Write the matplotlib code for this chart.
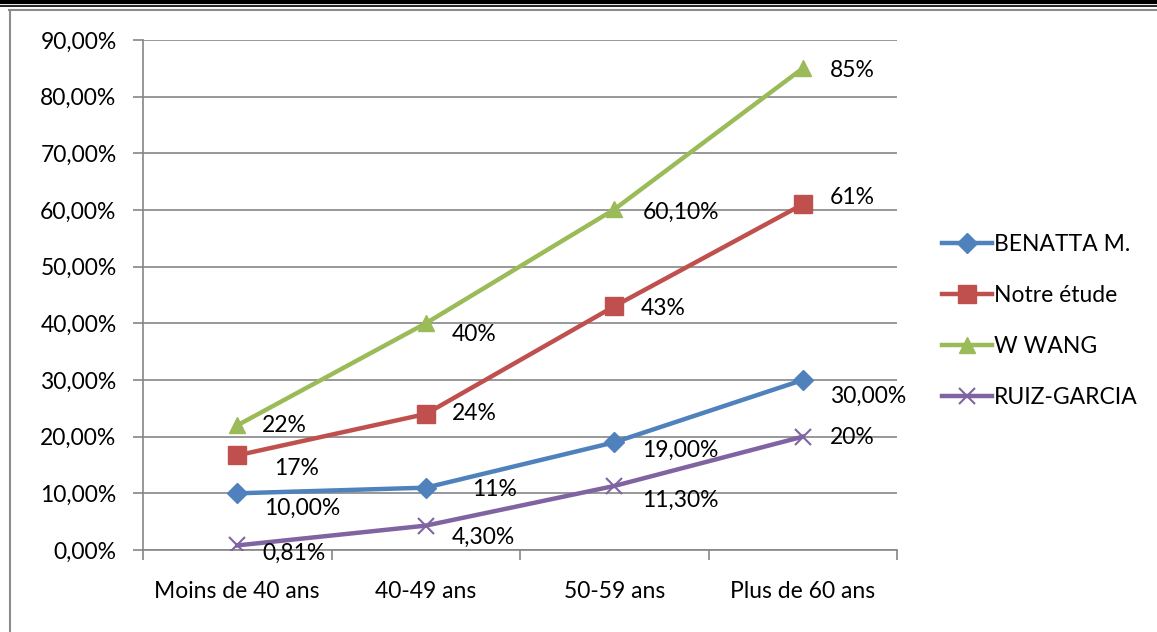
import matplotlib.pyplot as plt
from matplotlib.lines import Line2D
import numpy as np

plt.rcParams['font.family'] = ['Lato', 'DejaVu Sans']

categories = ["Moins de 40 ans", "40-49 ans", "50-59 ans", "Plus de 60 ans"]
series_names = ["BENATTA M.", "Notre étude", "W WANG", "RUIZ-GARCIA"]
benatta = [10.0, 11.0, 19.0, 30.0]
notre = [16.7, 24.0, 43.0, 61.0]
wang = [22.0, 40.0, 60.1, 85.0]
ruiz = [0.81, 4.3, 11.3, 20.0]
benatta_labels = ["10,00%", "11%", "19,00%", "30,00%"]
notre_labels = ["17%", "24%", "43%", "61%"]
wang_labels = ["22%", "40%", "60,10%", "85%"]
ruiz_labels = ["0,81%", "4,30%", "11,30%", "20%"]

# label offsets (pixels, right / down) as placed in the original
benatta_off = [(27, 15), (46, 2), (28, 8), (27, 16)]
notre_off = [(37, 13), (26, 0), (26, 2), (27, -7)]
wang_off = [(25, 0), (26, 11), (28, 3), (27, 2)]
ruiz_off = [(25, 8), (26, 12), (28, 14), (27, 1)]

colors = ['#4F81BD', '#C0504D', '#9BBB59', '#8064A2']
markers = ['D', 's', '^', 'x']
msizes = [10, 13, 12, 12]
FS = 16.5

fig = plt.figure(figsize=(11.57, 6.32), dpi=100)
ax = fig.add_axes([143 / 1157, 1 - 550 / 632, (897 - 143) / 1157, 510 / 632])

x = np.arange(len(categories))
data = [benatta, notre, wang, ruiz]
labels = [benatta_labels, notre_labels, wang_labels, ruiz_labels]
offsets = [benatta_off, notre_off, wang_off, ruiz_off]

for i in range(4):
    mew = 1.5 if markers[i] == 'x' else 1
    ax.plot(x, data[i], color=colors[i], lw=3.2, marker=markers[i], ms=msizes[i],
            mew=mew, label=series_names[i], zorder=3)
    for j in range(4):
        dx, dy = offsets[i][j]
        ax.annotate(labels[i][j], (x[j], data[i][j]), xytext=(dx * 0.72, -dy * 0.72),
                    textcoords='offset points', ha='left', va='center',
                    fontsize=FS, color='black', zorder=5)

ax.set_xlim(-0.5, 3.5)
ax.set_ylim(0, 90)
ax.set_yticks(np.arange(0, 91, 10))
ax.set_yticklabels([f"{v},00%" for v in range(0, 91, 10)], fontsize=FS)
ax.set_xticks(x)
ax.set_xticklabels(categories, fontsize=FS)
ax.set_xticks(np.arange(-0.5, 3.6, 1), minor=True)
ax.tick_params(axis='x', which='major', length=0, pad=22)
ax.tick_params(axis='x', which='minor', length=7, color='#868686', width=1.2, direction='out')
ax.tick_params(axis='y', length=7, color='#868686', width=1.2, pad=12)
ax.grid(axis='y', color='#868686', lw=1.2)
ax.set_axisbelow(True)
for s in ['top', 'right']:
    ax.spines[s].set_visible(False)
for s in ['left', 'bottom']:
    ax.spines[s].set_color('#868686')
    ax.spines[s].set_linewidth(1.2)

leg = ax.legend(loc='center left', bbox_to_anchor=(921 / 1157, 1 - 321 / 632),
                bbox_transform=fig.transFigure, frameon=False, fontsize=FS,
                handlelength=2.2, handletextpad=0.1, labelspacing=1.3)

# page border lines
fig.add_artist(Line2D([0, 1], [1 - 1.5 / 632, 1 - 1.5 / 632], color='black', lw=3))
fig.add_artist(Line2D([0, 1], [1 - 5.5 / 632, 1 - 5.5 / 632], color='black', lw=1.2))
fig.add_artist(Line2D([9 / 1157, 1], [1 - 9.5 / 632, 1 - 9.5 / 632], color='#8c8c8c', lw=1.5))
fig.add_artist(Line2D([9.5 / 1157, 9.5 / 1157], [0, 1 - 9.5 / 632], color='#8c8c8c', lw=1.5))

fig.savefig('out.png', dpi=100)
